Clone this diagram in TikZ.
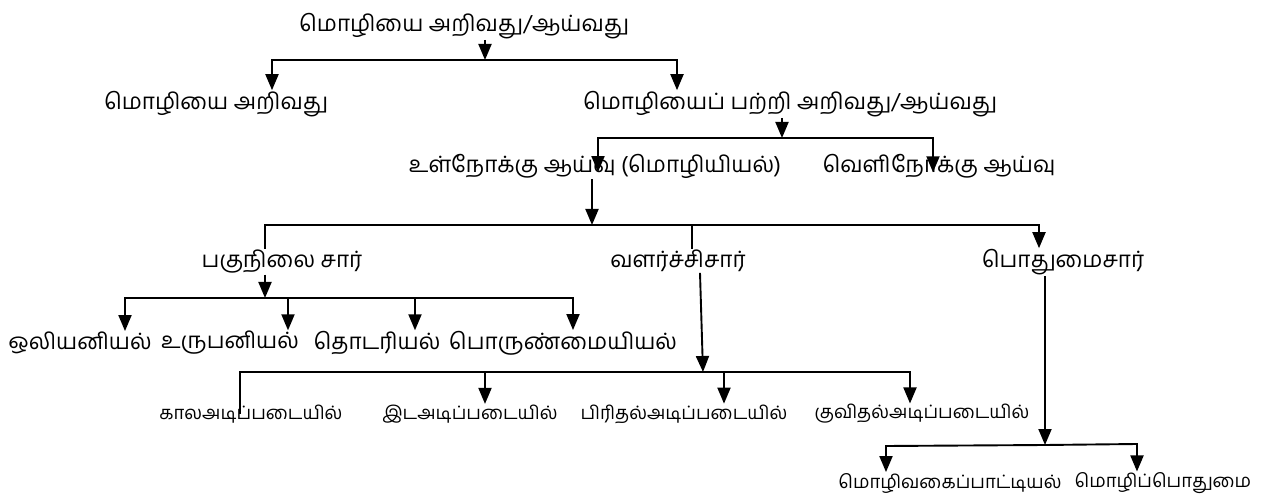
\documentclass[tikz,border=0pt]{standalone}
\usepackage{fontspec}
\setmainfont[Script=Tamil]{Hind Madurai}
\usetikzlibrary{arrows.meta}

\tikzset{
  big/.style={font=\fontsize{22.5}{27}\selectfont, inner sep=0pt},
  small/.style={font=\fontsize{18.5}{22}\selectfont, inner sep=0pt},
  arr/.style={-{Triangle[length=16pt,width=13pt]}},
}

\begin{document}
\begin{tikzpicture}[x=1pt, y=-1pt, line width=1.9pt]
  \useasboundingbox (0,0) rectangle (1275,497);

  \node[big] (mozhi) at (464,26) {மொழியை அறிவது/ஆய்வது};
  \node[big] (ari) at (216,104) {மொழியை அறிவது};
  \node[big] (pa) at (790,104) {மொழியைப் பற்றி அறிவது/ஆய்வது};
  \node[big] (ul) at (595,166) {உள்நோக்கு ஆய்வு (மொழியியல்)};
  \node[big] (veli) at (939,166) {வெளிநோக்கு ஆய்வு};
  \node[big] (paku) at (282,262) {பகுநிலை சார்};
  \node[big] (valar) at (678,261) {வளர்ச்சிசார்};
  \node[big] (pothu) at (1063,262) {பொதுமைசார்};
  \node[big] (oli) at (80,343) {ஒலியனியல்};
  \node[big] (uru) at (230,343) {உருபனியல்};
  \node[big] (thod) at (377,343) {தொடரியல்};
  \node[big] (porul) at (563,343) {பொருண்மையியல்};
  \node[small] (kaala) at (251,414) {காலஅடிப்படையில்};
  \node[small] (ida) at (470,414) {இடஅடிப்படையில்};
  \node[small] (piri) at (684,414) {பிரிதல்அடிப்படையில்};
  \node[small] (kuvi) at (922,414) {குவிதல்அடிப்படையில்};
  \node[small] (vakai) at (950,483) {மொழிவகைப்பாட்டியல்};
  \node[small] (pothum) at (1163,483) {மொழிப்பொதுமை};

  % first split
  \coordinate (j1) at (485,60);
  \coordinate (j1l) at (272,60);
  \coordinate (j1r) at (677,60);
  \draw[arr] (j1 |- mozhi.south) -- (j1);
  \draw[arr] (j1) -- (j1l) -- (j1l |- ari.north);
  \draw[arr] (j1) -- (j1r) -- (j1r |- pa.north);

  % about language
  \coordinate (j2) at (782,138);
  \coordinate (j2l) at (598,138);
  \coordinate (j2r) at (933,138);
  \draw[arr] (j2 |- pa.south) -- (j2);
  \draw[arr] (j2) -- (j2l) -- (j2l |- ul.base);
  \draw[arr] (j2) -- (j2r) -- (j2r |- veli.base);

  % inner study
  \coordinate (j3) at (592,225);
  \coordinate (j3l) at (265,225);
  \coordinate (j3m) at (692,225);
  \coordinate (j3r) at (1039,225);
  \draw[arr] (j3 |- ul.south) -- (j3);
  \draw (j3) -- (j3l) -- (j3l |- paku.north);
  \draw (j3m) -- (j3m |- valar.north);
  \draw[arr] (j3) -- (j3r) -- (j3r |- pothu.north);

  % branches of linguistics
  \coordinate (j4) at (265,298);
  \coordinate (j4a) at (125,298);
  \coordinate (j4b) at (288,298);
  \coordinate (j4c) at (415,298);
  \coordinate (j4d) at (573,298);
  \draw[arr] (j4 |- paku.south) -- (j4);
  \draw[arr] (j4) -- (j4a) -- (j4a |- oli.north);
  \draw[arr] (j4) -- (j4d) -- (j4d |- porul.north);
  \draw[arr] (j4b) -- (j4b |- uru.north);
  \draw[arr] (j4c) -- (j4c |- thod.north);

  % development
  \coordinate (j5) at (703,372);
  \coordinate (j5l) at (240,372);
  \coordinate (j5b) at (485,372);
  \coordinate (j5c) at (724,372);
  \coordinate (j5r) at (910,372);
  \draw[arr] ([xshift=22pt]valar.south) -- (j5);
  \draw (j5) -- (j5l) -- (j5l |- kaala.center);
  \draw[arr] (j5) -- (j5r) -- (j5r |- kuvi.north);
  \draw[arr] (j5b) -- (j5b |- ida.north);
  \draw[arr] (j5c) -- (j5c |- piri.north);

  % common features
  \coordinate (j6) at (1045,445);
  \coordinate (j6l) at (886,446);
  \coordinate (j6r) at (1137,444);
  \draw[arr] ([xshift=-18pt]pothu.south) -- (j6);
  \draw[arr] (j6) -- (j6l) -- (j6l |- vakai.north);
  \draw[arr] (j6) -- (j6r) -- (j6r |- pothum.north);
\end{tikzpicture}
\end{document}
